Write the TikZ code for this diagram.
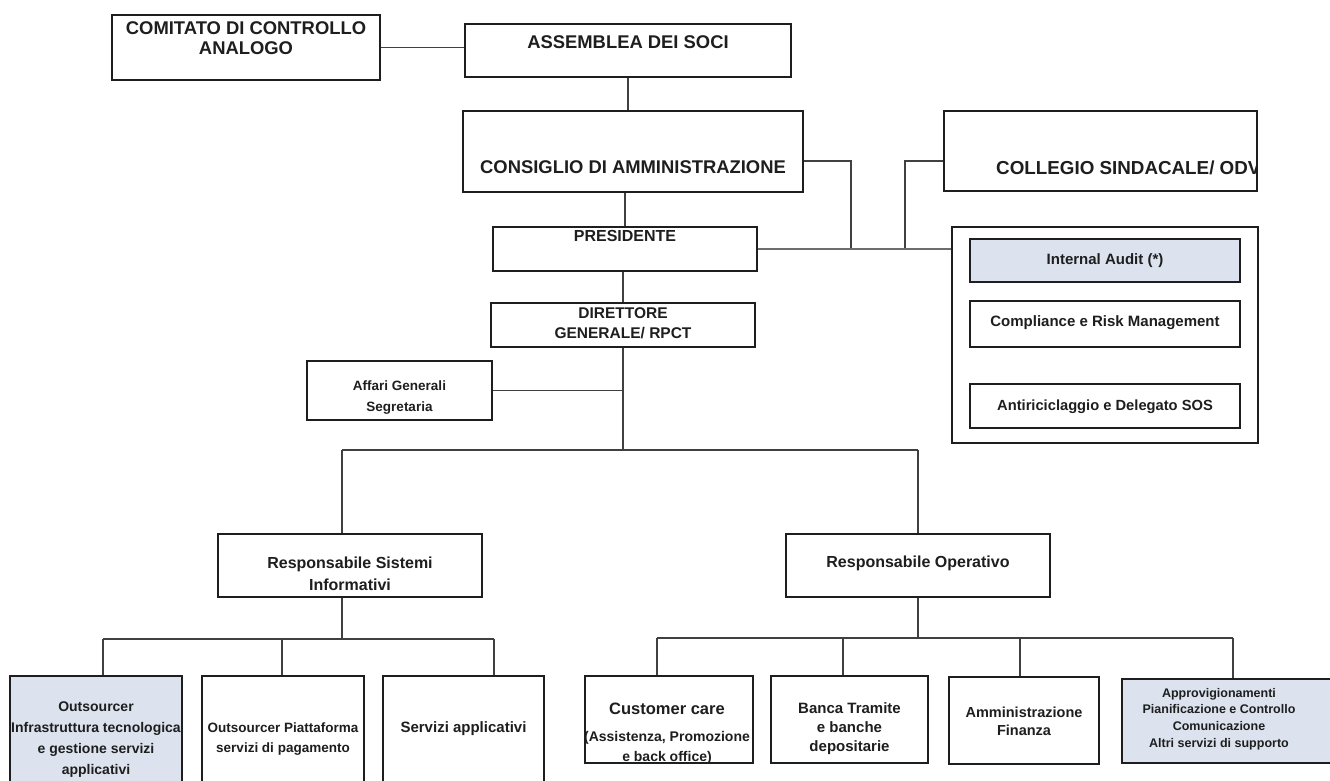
\documentclass[tikz,border=0pt]{standalone}
\usepackage{fontspec}
\setmainfont{Liberation Sans}
\definecolor{boxfill}{RGB}{220,227,239}
\definecolor{ink}{RGB}{30,30,30}
\begin{document}
\begin{tikzpicture}[x=1pt,y=-1pt,
  box/.style={draw=ink, line width=1.3pt, inner sep=0pt},
  fbox/.style={box, fill=boxfill},
  conn/.style={draw=ink!85, line width=1.2pt},
  txt/.style 2 args={font=\fontsize{#1}{#2}\selectfont\bfseries, align=center, inner sep=0pt, text=ink}]
\useasboundingbox (0,0) rectangle (1330,780);
\fill[white] (0,0) rectangle (1330,780);
\clip (0,0) rectangle (1330,780);

% boxes
\node[box, minimum width=268pt, minimum height=65pt] (comitato) at (246,47.5) {};
\node[box, minimum width=326pt, minimum height=53pt] (assemblea) at (628,50.5) {};
\node[box, minimum width=340pt, minimum height=81pt] (consiglio) at (633,151.5) {};
\node[box, minimum width=313pt, minimum height=80pt] (collegio) at (1100.5,151) {};
\node[box, minimum width=264pt, minimum height=44pt] (presidente) at (625,249) {};
\node[box, minimum width=264pt, minimum height=44pt] (direttore) at (623,325) {};
\node[box, minimum width=185pt, minimum height=59pt] (affari) at (399.5,390.5) {};
\node[box, minimum width=306pt, minimum height=216pt] (controlbox) at (1105,335) {};
\node[fbox, minimum width=270pt, minimum height=43pt] (audit) at (1105,260.5) {};
\node[box, minimum width=270pt, minimum height=46pt] (compliance) at (1105,324) {};
\node[box, minimum width=270pt, minimum height=44pt] (antiric) at (1105,406) {};
\node[box, minimum width=264pt, minimum height=63pt] (respsi) at (350,565.5) {};
\node[box, minimum width=264pt, minimum height=63pt] (respop) at (918,565.5) {};
\node[fbox, minimum width=172pt, minimum height=114pt] (out1) at (96,733) {};
\node[box, minimum width=162pt, minimum height=114pt] (out2) at (283,733) {};
\node[box, minimum width=161pt, minimum height=114pt] (servizi) at (463.5,733) {};
\node[box, minimum width=168pt, minimum height=87pt] (customer) at (669,719.5) {};
\node[box, minimum width=157pt, minimum height=87pt] (banca) at (849.5,719.5) {};
\node[box, minimum width=150pt, minimum height=87pt] (ammin) at (1024,720.5) {};
\node[fbox, minimum width=214pt, minimum height=84pt] (approv) at (1229,721) {};

% texts
\node[txt={18.4}{20}] (tcomitato) at (246,38) {COMITATO DI CONTROLLO\\ANALOGO};
\node[txt={18.4}{20}] (tassemblea) at (628,42) {ASSEMBLEA DEI SOCI};
\node[txt={18.4}{20}] (tconsiglio) at (633,167.5) {CONSIGLIO DI AMMINISTRAZIONE};
\begin{scope}
\clip (collegio.north west) rectangle (collegio.south east);
\node[txt={18.8}{20}, anchor=west] (tcollegio) at (996,167.5) {COLLEGIO SINDACALE/ ODV};
\end{scope}
\node[txt={16}{20}] (tpresidente) at (625,236) {PRESIDENTE};
\node[txt={15.5}{20}] (tdirettore) at (623,323) {DIRETTORE\\GENERALE/ RPCT};
\node[txt={13.5}{21}] (taffari) at (399.5,398) {Affari Generali\\Segretaria};
\node[txt={15}{18}] (taudit) at (1105,261) {Internal Audit (*)};
\node[txt={15}{18}] (tcompliance) at (1105,323) {Compliance e Risk Management};
\node[txt={14.7}{18}] (tantiric) at (1105,407) {Antiriciclaggio e Delegato SOS};
\node[txt={16}{22}] (trespsi) at (350,574) {Responsabile Sistemi\\Informativi};
\node[txt={16}{20}] (trespop) at (918,563) {Responsabile Operativo};
\node[txt={14}{21}] (tout1) at (96,740) {Outsourcer\\Infrastruttura tecnologica\\e gestione servizi\\applicativi};
\node[txt={13.5}{20}] (tout2) at (283,739) {Outsourcer Piattaforma\\servizi di pagamento};
\node[txt={15}{18}] (tservizi) at (463.5,729) {Servizi applicativi};
\node[txt={16.5}{20}] (tcustomer) at (667,709) {Customer care};
\node[txt={14}{20}] (tcustomer2) at (667,748) {(Assistenza, Promozione\\e back office)};
\node[txt={15}{19}] (tbanca) at (849.5,729) {Banca Tramite\\e banche\\depositarie};
\node[txt={14.5}{18}] (tammin) at (1024,721) {Amministrazione\\Finanza};
\node[txt={12.5}{16.7}] (tapprov) at (1219,719) {Approvigionamenti\\Pianificazione e Controllo\\Comunicazione\\Altri servizi di supporto};

% connectors
\draw[conn] (comitato.east) -- (comitato.east -| assemblea.west);
\draw[conn] (assemblea.south) -- (assemblea.south |- consiglio.north);
\draw[conn] (presidente.north |- consiglio.south) -- (presidente.north);
\draw[conn] (direttore.north |- presidente.south) -- (direttore.north);

\coordinate (cr) at (851,161);
\coordinate (cl) at (905,161);
\draw[conn] (cr -| consiglio.east) -- (cr) -- (cr |- presidente.east);
\draw[conn] (cl -| collegio.west) -- (cl) -- (cl |- presidente.east);
\draw[conn, draw=ink!65] (presidente.east) -- (presidente.east -| controlbox.west);

\coordinate (j1) at (623,450);
\coordinate (hL) at (342,450);
\coordinate (hR) at (918,450);
\draw[conn] (direttore.south) -- (j1);
\draw[conn] (affari.east) -- (affari.east -| j1);
\draw[conn] (hL) -- (hR);
\draw[conn] (hL) -- (hL |- respsi.north);
\draw[conn] (hR) -- (respop.north);

\coordinate (sL) at (103,639);
\coordinate (sM) at (282,639);
\coordinate (sR) at (494,639);
\draw[conn] (hL |- respsi.south) -- (hL |- sL);
\draw[conn] (sL) -- (sR);
\draw[conn] (sL) -- (sL |- out1.north);
\draw[conn] (sM) -- (sM |- out2.north);
\draw[conn] (sR) -- (sR |- servizi.north);

\coordinate (oL) at (657,638);
\coordinate (oM1) at (843,638);
\coordinate (oM2) at (1020,638);
\coordinate (oR) at (1233,638);
\draw[conn] (respop.south) -- (respop.south |- oL);
\draw[conn] (oL) -- (oR);
\draw[conn] (oL) -- (oL |- customer.north);
\draw[conn] (oM1) -- (oM1 |- banca.north);
\draw[conn] (oM2) -- (oM2 |- ammin.north);
\draw[conn] (oR) -- (oR |- approv.north);
\end{tikzpicture}
\end{document}
